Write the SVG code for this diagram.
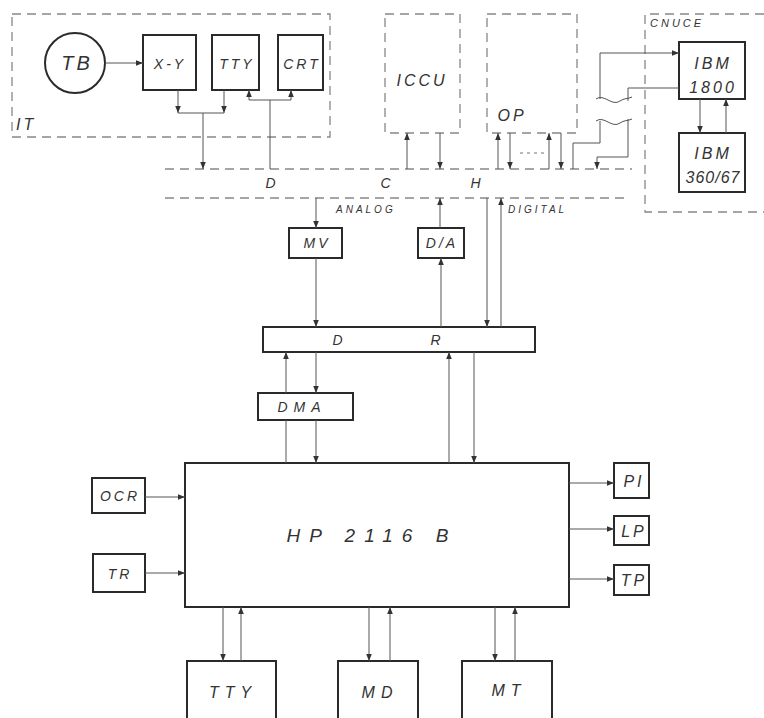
<svg xmlns="http://www.w3.org/2000/svg" width="764" height="718" viewBox="0 0 764 718">
<defs>
<marker id="ah" viewBox="0 0 10 10" refX="10" refY="5" markerWidth="7" markerHeight="7" orient="auto-start-reverse" markerUnits="userSpaceOnUse"><path d="M0,1 L10,5 L0,9 z" fill="#333"/></marker>
</defs>
<style>
.box{fill:none;stroke:#2a2a2a;stroke-width:2}
.dash{fill:none;stroke:#888;stroke-width:1.3;stroke-dasharray:9 6}
.ln{fill:none;stroke:#555;stroke-width:1}
.ar{fill:none;stroke:#555;stroke-width:1;marker-end:url(#ah)}
.dot{fill:none;stroke:#777;stroke-width:1;stroke-dasharray:3 4}
text{font-family:"Liberation Sans",Arial,sans-serif;font-style:italic;fill:#333;text-anchor:middle;letter-spacing:3px}
.s{font-size:14px}
.m{font-size:16px}
.t{font-size:10px;text-anchor:start}
</style>
<rect width="764" height="718" fill="#fff"/>

<g id="IT">
<rect class="dash" x="12" y="14" width="318" height="123"/>
<text class="m" x="16" y="130" style="text-anchor:start">IT</text>
</g>
<g id="TB"><circle cx="75" cy="63" r="30" class="box"/><text x="77" y="70" style="font-size:20px">TB</text></g>
<g id="XY"><rect class="box" x="143" y="35" width="53" height="55"/><text class="s" x="170" y="69">X-Y</text></g>
<g id="TTY1"><rect class="box" x="212" y="35" width="47" height="55"/><text class="s" x="237" y="69">TTY</text></g>
<g id="CRT"><rect class="box" x="278" y="35" width="45" height="55"/><text class="s" x="302" y="69">CRT</text></g>

<g id="ICCU"><rect class="dash" x="385" y="14" width="75" height="119"/><text class="m" x="422" y="86">ICCU</text></g>
<g id="OP"><rect class="dash" x="487" y="14" width="90" height="119"/><text class="m" x="512" y="121">OP</text></g>
<g id="CNUCE"><path class="dash" d="M764,14 H645 V212 H764"/><text class="t" x="650" y="27" style="font-size:11px">CNUCE</text></g>
<g id="IBM1800"><rect class="box" x="679" y="42" width="66" height="57"/><text class="m" x="713" y="69">IBM</text><text class="m" x="713" y="93">1800</text></g>
<g id="IBM360"><rect class="box" x="679" y="133" width="66" height="59"/><text class="m" x="713" y="159">IBM</text><text class="m" x="713" y="183" style="letter-spacing:1px">360/67</text></g>

<g id="BUS">
<line class="dash" x1="165" y1="169" x2="632" y2="169"/>
<line class="dash" x1="165" y1="198" x2="630" y2="198"/>
<text class="s" x="272" y="188">D</text>
<text class="s" x="387" y="188">C</text>
<text class="s" x="477" y="188">H</text>
<text class="t" x="336" y="213">ANALOG</text>
<text class="t" x="508" y="213">DIGITAL</text>
</g>
<g id="MV"><rect class="box" x="289" y="228" width="53" height="30"/><text class="s" x="317" y="248">MV</text></g>
<g id="DA"><rect class="box" x="418" y="228" width="46" height="30"/><text class="s" x="442" y="248">D/A</text></g>
<g id="DR"><rect class="box" x="263" y="327" width="272" height="25"/><text class="s" x="339" y="345">D</text><text class="s" x="437" y="345">R</text></g>
<g id="DMA"><rect class="box" x="258" y="393" width="95" height="27"/><text class="s" x="302" y="412" style="letter-spacing:6px">DMA</text></g>
<g id="HP"><rect class="box" x="185" y="463" width="384" height="144"/><text x="372" y="542" style="font-size:19px;letter-spacing:9px">HP 2116 B</text></g>
<g id="OCR"><rect class="box" x="92" y="478" width="53" height="35"/><text class="s" x="120" y="501">OCR</text></g>
<g id="TR"><rect class="box" x="93" y="554" width="52" height="38"/><text class="s" x="120" y="579">TR</text></g>
<g id="PI"><rect class="box" x="614" y="463" width="35" height="35"/><text class="m" x="634" y="487">PI</text></g>
<g id="LP"><rect class="box" x="614" y="516" width="35" height="29"/><text class="m" x="634" y="537">LP</text></g>
<g id="TP"><rect class="box" x="614" y="565" width="35" height="30"/><text class="m" x="634" y="586">TP</text></g>
<g id="TTY2"><rect class="box" x="187" y="661" width="89" height="70"/><text class="m" x="233" y="698" style="letter-spacing:6px">TTY</text></g>
<g id="MD"><rect class="box" x="338" y="661" width="80" height="70"/><text class="m" x="380" y="698" style="letter-spacing:6px">MD</text></g>
<g id="MT"><rect class="box" x="462" y="661" width="90" height="70"/><text class="m" x="509" y="696" style="letter-spacing:6px">MT</text></g>

<g id="connectors">
<line class="ar" x1="105" y1="63" x2="143" y2="63"/>
<line class="ar" x1="178" y1="90" x2="178" y2="113"/>
<line class="ar" x1="224" y1="90" x2="224" y2="113"/>
<line class="ln" x1="178" y1="113" x2="224" y2="113"/>
<line class="ar" x1="203" y1="113" x2="203" y2="169"/>
<line class="ar" x1="249" y1="100" x2="249" y2="90"/>
<line class="ar" x1="291" y1="100" x2="291" y2="90"/>
<line class="ln" x1="249" y1="100" x2="291" y2="100"/>
<line class="ln" x1="270" y1="100" x2="270" y2="169"/>
<line class="ar" x1="407" y1="169" x2="407" y2="133"/>
<line class="ar" x1="440" y1="133" x2="440" y2="169"/>
<line class="ar" x1="498" y1="169" x2="498" y2="133"/>
<line class="ar" x1="510" y1="133" x2="510" y2="169"/>
<line class="dot" x1="520" y1="153" x2="545" y2="153"/>
<line class="ar" x1="549" y1="169" x2="549" y2="133"/>
<line class="ar" x1="561" y1="133" x2="561" y2="169"/>
<path class="ln" d="M573,169 V143 H600 V121"/>
<path class="ar" d="M628,119 V157 H597 V169"/>
<path class="ar" d="M600,99 V53 H679"/>
<path class="ln" d="M679,88 H628 V101"/>
<path class="ln" d="M596,99 C604,93 612,107 620,101 C624,98 628,99 632,97"/>
<path class="ln" d="M596,121 C604,115 612,129 620,123 C624,120 628,121 632,119"/>
<line class="ar" x1="700" y1="99" x2="700" y2="133"/>
<line class="ar" x1="726" y1="133" x2="726" y2="99"/>
<line class="ar" x1="316" y1="198" x2="316" y2="228"/>
<line class="ar" x1="440" y1="228" x2="440" y2="198"/>
<line class="ar" x1="316" y1="258" x2="316" y2="327"/>
<line class="ar" x1="441" y1="327" x2="441" y2="258"/>
<line class="ar" x1="487" y1="198" x2="487" y2="327"/>
<line class="ar" x1="501" y1="327" x2="501" y2="198"/>
<line class="ln" x1="286" y1="463" x2="286" y2="420"/>
<line class="ar" x1="286" y1="393" x2="286" y2="352"/>
<line class="ar" x1="316" y1="352" x2="316" y2="393"/>
<line class="ar" x1="316" y1="420" x2="316" y2="463"/>
<line class="ar" x1="449" y1="463" x2="449" y2="352"/>
<line class="ar" x1="474" y1="352" x2="474" y2="463"/>
<line class="ar" x1="145" y1="497" x2="185" y2="497"/>
<line class="ar" x1="145" y1="573" x2="185" y2="573"/>
<line class="ar" x1="569" y1="483" x2="614" y2="483"/>
<line class="ar" x1="569" y1="529" x2="614" y2="529"/>
<line class="ar" x1="569" y1="579" x2="614" y2="579"/>
<line class="ar" x1="223" y1="607" x2="223" y2="661"/>
<line class="ar" x1="241" y1="661" x2="241" y2="607"/>
<line class="ar" x1="369" y1="607" x2="369" y2="661"/>
<line class="ar" x1="390" y1="661" x2="390" y2="607"/>
<line class="ar" x1="495" y1="607" x2="495" y2="661"/>
<line class="ar" x1="515" y1="661" x2="515" y2="607"/>
</g>
</svg>
